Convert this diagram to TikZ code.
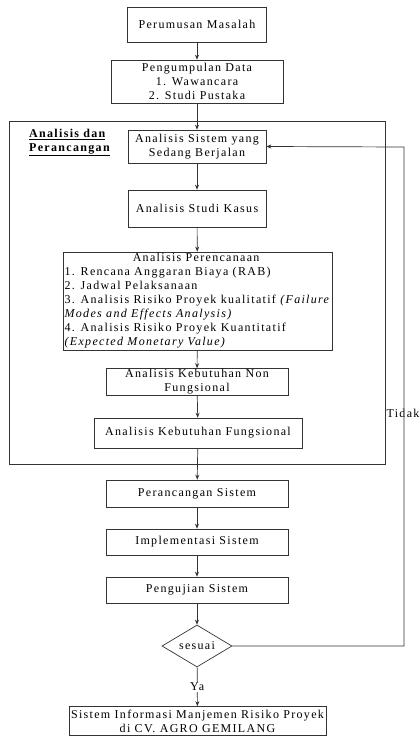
\documentclass[tikz,border=0pt]{standalone}
\usepackage{fontspec}
\setmainfont{Liberation Serif}[LetterSpace=11]
\usetikzlibrary{shapes.geometric,arrows.meta}
\begin{document}
\begin{tikzpicture}[x=1pt,y=-1pt,
  box/.style={draw=black!80,line width=0.7pt,inner sep=1pt,align=center,font=\fontsize{12}{14}\selectfont},
  conn/.style={draw=black!80,line width=0.7pt,-{Stealth[length=5pt,width=4pt]}},
  lbl/.style={font=\fontsize{12}{14}\selectfont,fill=white,inner sep=1pt}]
\useasboundingbox (0,0) rectangle (420,736);
\draw[black!80,line width=0.7pt] (9,121) rectangle (385,464);
\node[box,minimum width=139pt,minimum height=35pt] (b1) at (197,24.5) {Perumusan Masalah};
\node[box,minimum width=172pt,minimum height=43pt] (b2) at (197,81.5) {Pengumpulan Data\\1. Wawancara\\2. Studi Pustaka};
\node[align=left,font=\fontsize{12}{13.5}\selectfont\bfseries,inner sep=0pt,anchor=north west] (lab) at (29,129) {\underline{Analisis dan}\\\underline{Perancangan}};
\node[box,minimum width=138pt,minimum height=33pt] (b3) at (197,146.5) {Analisis Sistem yang\\Sedang Berjalan};
\node[box,minimum width=138pt,minimum height=37pt] (b4) at (197,208.5) {Analisis Studi Kasus};
\node[box,minimum width=269pt,minimum height=98pt,align=left] (b5) at (197.5,301) {\makebox[263pt]{Analisis Perencanaan}\\
1. Rencana Anggaran Biaya (RAB)\\
2. Jadwal Pelaksanaan\\
3. Analisis Risiko Proyek kualitatif \textit{(Failure}\\
\textit{Modes and Effects Analysis)}\\
4. Analisis Risiko Proyek Kuantitatif\\
\textit{(Expected Monetary Value)}};
\node[box,minimum width=182pt,minimum height=26pt] (b6) at (197,382) {Analisis Kebutuhan Non\\Fungsional};
\node[box,minimum width=208pt,minimum height=30pt] (b7) at (198,433) {Analisis Kebutuhan Fungsional};
\node[box,minimum width=182pt,minimum height=27pt] (b8) at (197,493.5) {Perancangan Sistem};
\node[box,minimum width=182pt,minimum height=26pt] (b9) at (197,542) {Implementasi Sistem};
\node[box,minimum width=182pt,minimum height=26pt] (b10) at (197,590) {Pengujian Sistem};
\node[box,diamond,aspect=1.67,minimum width=70pt,minimum height=42pt,inner sep=0pt] (d) at (197,646) {sesuai};
\node[box,minimum width=257pt,minimum height=29pt] (b11) at (197.5,721) {Sistem Informasi Manjemen Risiko Proyek\\di CV. AGRO GEMILANG};
\coordinate (r1) at (404,646);
\coordinate (r2) at (404,147);
\draw[conn] (b1) -- (b2);
\draw[conn] (b2) -- (b3);
\draw[conn] (b3) -- (b4);
\draw[conn] (b4) -- (b5);
\draw[conn] (b5) -- (b6);
\draw[conn] (b6) -- (b7);
\draw[conn] (b7) -- (b8);
\draw[conn] (b8) -- (b9);
\draw[conn] (b9) -- (b10);
\draw[conn] (b10) -- (d);
\draw[conn] (d) -- node[lbl] (ya) {Ya} (b11);
\draw[conn] (d.east) -- (r1) -- (r2) -- (b3.east);
\node[lbl,inner sep=0pt] (tidak) at (403,413) {Tidak};
\end{tikzpicture}
\end{document}
